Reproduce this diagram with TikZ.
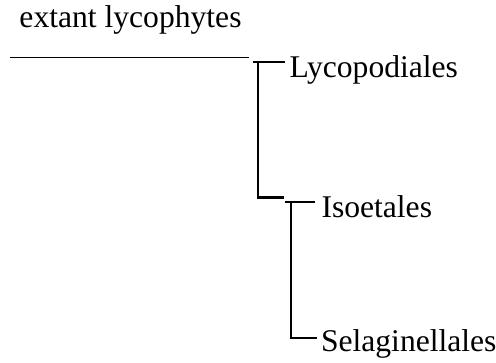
\documentclass[tikz,border=0pt]{standalone}
\usepackage{fontspec}
\setmainfont{Liberation Serif}
\begin{document}
\begin{tikzpicture}[x=1pt,y=-1pt,
  taxon/.style={anchor=base west,inner sep=0pt,outer sep=0pt,font=\fontsize{31.6}{36}\selectfont},
  stem/.style={line width=1.3pt},
  branch/.style={line width=2.5pt,line cap=butt}]
  \useasboundingbox (0,0) rectangle (496,363);

  % labels
  \node[taxon] (root) at (19.5,28) {extant lycophytes};
  \node[taxon] (lyc) at (289.5,78) {Lycopodiales};
  \node[taxon] (iso) at (321.5,218) {Isoetales};
  \node[taxon] (sel) at (321,352) {Selaginellales};

  % junction points of the tree
  \coordinate (s0) at (10,57.5);
  \coordinate (s1) at (249,57.5);
  \coordinate (a0) at (253,62);
  \coordinate (a1) at (285,62);
  \coordinate (a2) at (258,62);
  \coordinate (a3) at (258,197.5);
  \coordinate (a4) at (283.5,197.5);
  \coordinate (b0) at (285,202);
  \coordinate (b1) at (315,202);
  \coordinate (b2) at (291,202);
  \coordinate (b3) at (291,338);
  \coordinate (b4) at (317,338);

  % root stem
  \draw[stem] (s0) -- (s1);
  % first split
  \draw[branch] (a0) -- (a1);
  \draw[branch] (a2) -- (a3) -- (a4);
  % second split
  \draw[branch] (b0) -- (b1);
  \draw[branch] (b2) -- (b3) -- (b4);
\end{tikzpicture}
\end{document}
